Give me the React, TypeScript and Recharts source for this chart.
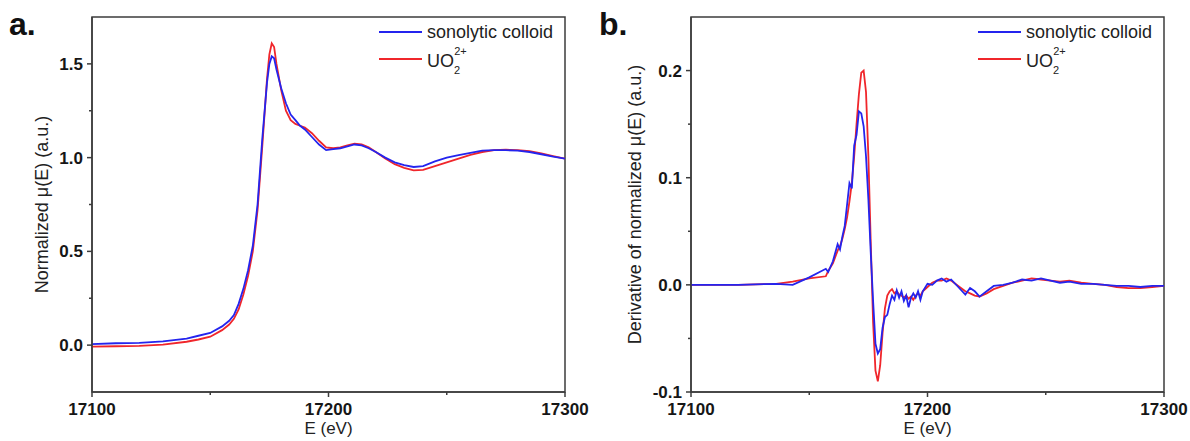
import React from 'react';
import { LineChart, Line, XAxis, YAxis, ReferenceArea, Legend } from 'recharts';

// ---------- data ----------
const energyA = [17100, 17110, 17120, 17130, 17140, 17145, 17150, 17155, 17158, 17160, 17162, 17164, 17166, 17168, 17170, 17172, 17174, 17175, 17176, 17177, 17178, 17180, 17182, 17184, 17186, 17188, 17190, 17193, 17196, 17199, 17202, 17205, 17208, 17211, 17214, 17217, 17220, 17224, 17228, 17232, 17236, 17240, 17245, 17250, 17255, 17260, 17265, 17270, 17275, 17280, 17285, 17290, 17295, 17300];
const colloidA = [0.005, 0.01, 0.012, 0.02, 0.035, 0.05, 0.065, 0.1, 0.13, 0.16, 0.22, 0.3, 0.4, 0.53, 0.75, 1.1, 1.4, 1.5, 1.54, 1.53, 1.47, 1.37, 1.29, 1.23, 1.2, 1.17, 1.15, 1.11, 1.07, 1.04, 1.045, 1.05, 1.06, 1.07, 1.065, 1.05, 1.03, 1.0, 0.975, 0.96, 0.95, 0.955, 0.98, 1.0, 1.013, 1.025, 1.037, 1.04, 1.04, 1.037, 1.03, 1.018, 1.005, 0.995];
const uranylA = [-0.008, -0.006, -0.004, 0.003, 0.018, 0.03, 0.045, 0.08, 0.11, 0.14, 0.19, 0.27, 0.37, 0.5, 0.72, 1.06, 1.42, 1.55, 1.61, 1.59, 1.5, 1.36, 1.25, 1.2, 1.18, 1.17, 1.16, 1.13, 1.09, 1.055, 1.05, 1.055, 1.065, 1.075, 1.07, 1.055, 1.03, 0.995, 0.965, 0.945, 0.932, 0.935, 0.955, 0.975, 0.995, 1.015, 1.03, 1.04, 1.042, 1.04, 1.035, 1.022, 1.008, 0.995];

const energyB = [17100, 17120, 17136, 17143, 17150, 17157, 17158, 17160, 17162, 17163, 17164, 17165, 17166, 17167, 17168, 17169, 17170, 17171, 17172, 17173, 17174, 17175, 17176, 17177, 17178, 17179, 17180, 17181, 17182, 17183, 17184, 17185, 17186, 17187, 17188, 17189, 17190, 17191, 17192, 17193, 17194, 17195, 17196, 17197, 17198, 17200, 17202, 17204, 17206, 17208, 17210, 17213, 17216, 17218, 17220, 17222, 17225, 17228, 17232, 17236, 17240, 17244, 17248, 17252, 17256, 17260, 17265, 17270, 17275, 17280, 17285, 17290, 17295, 17300];
const colloidB = [0.0, 0.0, 0.001, 0.0, 0.007, 0.015, 0.012, 0.022, 0.038, 0.033, 0.045, 0.055, 0.075, 0.095, 0.09, 0.13, 0.14, 0.162, 0.16, 0.148, 0.12, 0.08, 0.03, -0.015, -0.055, -0.064, -0.06, -0.04, -0.03, -0.028, -0.018, -0.01, -0.014, -0.005, -0.012, -0.006, -0.015, -0.01, -0.021, -0.012, -0.008, -0.012, -0.006, -0.014, -0.006, 0.001, 0.0, 0.004, 0.006, 0.003, 0.005, -0.002, -0.009, -0.003, -0.006, -0.011, -0.006, -0.001, 0.0, 0.002, 0.005, 0.004, 0.006, 0.004, 0.002, 0.003, 0.001, 0.001, 0.0, -0.001, -0.001, -0.002, -0.001, -0.001];
const uranylB = [0.0, 0.0, 0.001, 0.003, 0.006, 0.008, 0.013, 0.02, 0.032, 0.036, 0.043, 0.052, 0.063, 0.078, 0.095, 0.12, 0.15, 0.178, 0.198, 0.2, 0.18, 0.12, 0.04, -0.035, -0.08, -0.09, -0.075, -0.045, -0.022, -0.01, -0.006, -0.004, -0.008, -0.006, -0.009, -0.01, -0.012, -0.01, -0.013, -0.011, -0.014, -0.01, -0.008, -0.01, -0.006, -0.002, 0.002, 0.004, 0.004, 0.006, 0.004, -0.001, -0.006, -0.008, -0.01, -0.011, -0.008, -0.004, -0.001, 0.002, 0.004, 0.006, 0.005, 0.004, 0.003, 0.004, 0.002, 0.001, 0.0, -0.002, -0.003, -0.003, -0.002, -0.001];

const xMajor = [17100, 17200, 17300];
const xMajorLabels = ['17100', '17200', '17300'];
const xMinor = [17150, 17250];

const yMajorA = [0, 0.5, 1.0, 1.5];
const yMajorLabelsA = ['0.0', '0.5', '1.0', '1.5'];
const yMinorA = [0.25, 0.75, 1.25];

const yMajorB = [-0.1, 0, 0.1, 0.2];
const yMajorLabelsB = ['-0.1', '0.0', '0.1', '0.2'];
const yMinorB = [-0.05, 0.05, 0.15];

const seriesNames = ['sonolytic colloid', 'UO2 2+'];

const dataA = energyA.map((e, i) => ({ e, colloid: colloidA[i], uranyl: uranylA[i] }));
const dataB = energyB.map((e, i) => ({ e, colloid: colloidB[i], uranyl: uranylB[i] }));

// ---------- styles ----------
const BLUE = '#2424ee';
const RED = '#f0262b';
const AXIS = '#3c3c3c';
const FONT = '"Liberation Sans", Arial, Helvetica, sans-serif';

const findLabel = (v: number, majors: number[], labels: string[]) => {
  const i = majors.findIndex((m) => Math.abs(m - v) < 1e-9);
  return i >= 0 ? labels[i] : null;
};

const makeYTick = (majors: number[], labels: string[]) => (props: any) => {
  const { x, y, payload } = props;
  const lab = findLabel(payload.value, majors, labels);
  const len = lab !== null ? 5 : 3;
  return (
    <g>
      <line x1={x} x2={x - len} y1={y} y2={y} stroke={AXIS} strokeWidth={1.5} />
      {lab !== null && (
        <text x={x - 9} y={y} dy="0.36em" textAnchor="end" fontFamily={FONT} fontWeight={700} fontSize={17} fill="#161616">
          {lab}
        </text>
      )}
    </g>
  );
};

const XTick = (props: any) => {
  const { x, y, payload } = props;
  const lab = findLabel(payload.value, xMajor, xMajorLabels);
  const len = lab !== null ? 5 : 3;
  return (
    <g>
      <line x1={x} x2={x} y1={y} y2={y + len} stroke={AXIS} strokeWidth={1.5} />
      {lab !== null && (
        <text x={x} y={y + 23} textAnchor="middle" fontFamily={FONT} fontWeight={700} fontSize={17} fill="#161616">
          {lab}
        </text>
      )}
    </g>
  );
};

const renderLegend = (props: any) => {
  const payload = (props.payload || []).slice();
  const colloid = payload.find((p: any) => p.dataKey === 'colloid');
  const uranyl = payload.find((p: any) => p.dataKey === 'uranyl');
  return (
    <svg width={200} height={64} style={{ display: 'block' }}>
      <line x1={0} x2={43} y1={14} y2={14} stroke={colloid ? colloid.color : BLUE} strokeWidth={2} />
      <text x={48} y={20} fontFamily={FONT} fontSize={18} fill="#222">
        {seriesNames[0]}
      </text>
      <line x1={0} x2={43} y1={41} y2={41} stroke={uranyl ? uranyl.color : RED} strokeWidth={2} />
      <text x={48} y={49} fontFamily={FONT} fontSize={18} fill="#222">
        UO
        <tspan dy={7} fontSize={11}>2</tspan>
        <tspan dx={-6} dy={-19} fontSize={11}>2+</tspan>
      </text>
    </svg>
  );
};

const yTitle = (text: string, dxFromAxis: number) => (props: any) => {
  const vb = props.viewBox || {};
  const cx = vb.x + dxFromAxis;
  const cy = vb.y + vb.height / 2;
  return (
    <text x={cx} y={cy} transform={`rotate(-90, ${cx}, ${cy})`} textAnchor="middle" dy="0.35em" fontFamily={FONT} fontSize={18} fill="#222">
      {text}
    </text>
  );
};

const xTitle = (props: any) => {
  const vb = props.viewBox || {};
  return (
    <text x={vb.x + vb.width / 2} y={vb.y + 42} textAnchor="middle" fontFamily={FONT} fontSize={17} fill="#222">
      E (eV)
    </text>
  );
};

type PanelProps = {
  data: any[];
  width: number;
  marginLeft: number;
  marginRight: number;
  yDomain: [number, number];
  yMajor: number[];
  yLabels: string[];
  yMinor: number[];
  title: string;
  titleDx: number;
  legendLeft: number;
};

const Panel = (p: PanelProps) => {
  const yTicks = [...p.yMajor, ...p.yMinor].sort((a, b) => a - b);
  const xTicks = [...xMajor, ...xMinor].sort((a, b) => a - b);
  return (
    <LineChart
      width={p.width}
      height={441}
      data={p.data}
      margin={{ top: 17, right: p.marginRight, bottom: 19, left: p.marginLeft }}
    >
      <XAxis
        dataKey="e"
        type="number"
        domain={[17100, 17300]}
        ticks={xTicks}
        interval={0}
        height={30}
        tickSize={0}
        tickMargin={0}
        tickLine={false}
        axisLine={{ stroke: AXIS, strokeWidth: 1.5 }}
        tick={<XTick />}
        allowDataOverflow
        label={{ content: xTitle }}
      />
      <YAxis
        type="number"
        domain={p.yDomain}
        ticks={yTicks}
        interval={0}
        width={60}
        tickSize={0}
        tickMargin={0}
        tickLine={false}
        axisLine={{ stroke: AXIS, strokeWidth: 1.5 }}
        tick={makeYTick(p.yMajor, p.yLabels)}
        allowDataOverflow
        label={{ content: yTitle(p.title, p.titleDx) }}
      />
      <ReferenceArea
        x1={17100}
        x2={17300}
        y1={p.yDomain[0]}
        y2={p.yDomain[1]}
        fill="none"
        fillOpacity={0}
        stroke={AXIS}
        strokeWidth={1.5}
        ifOverflow="visible"
      />
      <Line type="linear" dataKey="uranyl" name={seriesNames[1]} stroke={RED} strokeWidth={1.8} dot={false} isAnimationActive={false} />
      <Line type="linear" dataKey="colloid" name={seriesNames[0]} stroke={BLUE} strokeWidth={1.8} dot={false} isAnimationActive={false} />
      <Legend
        layout="vertical"
        align="center"
        verticalAlign="middle"
        content={renderLegend}
        wrapperStyle={{ left: p.legendLeft, top: 18, width: 200, height: 64 }}
      />
    </LineChart>
  );
};

export default function App() {
  return (
    <div style={{ position: 'absolute', left: 0, top: 0, width: 1190, height: 441, background: '#fff', overflow: 'hidden' }}>
      <div style={{ position: 'absolute', left: 0, top: 0 }}>
        <Panel
          data={dataA}
          width={600}
          marginLeft={32}
          marginRight={35}
          yDomain={[-0.25, 1.75]}
          yMajor={yMajorA}
          yLabels={yMajorLabelsA}
          yMinor={yMinorA}
          title="Normalized μ(E) (a.u.)"
          titleDx={10}
          legendLeft={379}
        />
      </div>
      <div style={{ position: 'absolute', left: 595, top: 0 }}>
        <Panel
          data={dataB}
          width={595}
          marginLeft={36}
          marginRight={26}
          yDomain={[-0.1, 0.25]}
          yMajor={yMajorB}
          yLabels={yMajorLabelsB}
          yMinor={yMinorB}
          title="Derivative of normalized μ(E) (a.u.)"
          titleDx={4}
          legendLeft={383}
        />
      </div>
      <div style={{ position: 'absolute', left: 9, top: 4, fontFamily: FONT, fontWeight: 700, fontSize: 32, color: '#111', lineHeight: '40px' }}>a.</div>
      <div style={{ position: 'absolute', left: 599, top: 4, fontFamily: FONT, fontWeight: 700, fontSize: 32, color: '#111', lineHeight: '40px' }}>b.</div>
    </div>
  );
}
